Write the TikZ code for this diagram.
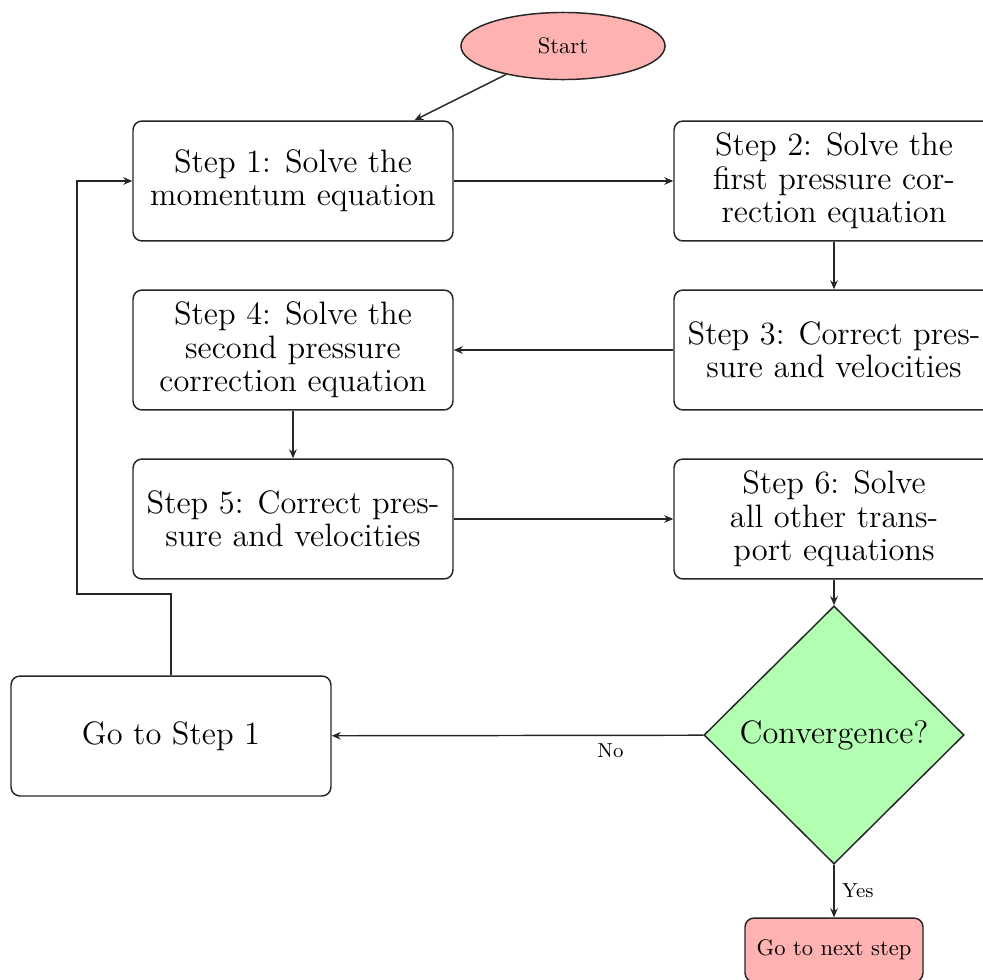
\documentclass[tikz,border=0pt]{standalone}
\usetikzlibrary{shapes.geometric,arrows.meta}
\newcommand{\bigtext}{\fontsize{14.4pt}{14.8pt}\selectfont}
\begin{document}
\begin{tikzpicture}[x=0.4444pt,y=-0.4444pt, line width=0.65pt,
  stepbox/.style={rectangle, draw=black!85, rounded corners=4pt, fill=white,
    minimum width=142.2pt, minimum height=53.3pt, align=center, inner sep=2pt,
    font=\bigtext},
  startnode/.style={ellipse, draw=black!85, fill=red!30, minimum width=90.7pt,
    minimum height=29.8pt, inner sep=0pt, font=\normalsize},
  decide/.style={diamond, draw=black!85, fill=green!30, aspect=1, inner sep=0pt,
    minimum width=115.6pt, minimum height=114.7pt, font=\bigtext},
  endbox/.style={rectangle, draw=black!85, rounded corners=4pt, fill=red!30,
    minimum width=79.1pt, minimum height=28.4pt, font=\normalsize},
  arr/.style={draw=black!85, -{Stealth[length=4pt,width=3.4pt]}},
  lbl/.style={font=\small, draw=none}]
\useasboundingbox (0,0) rectangle (983,979);
\clip (0,0) rectangle (983,979);
\node[startnode] (start) at (563,46) {Start};
\node[stepbox] (s1) at (293,181) {Step 1: Solve the\\momentum equation};
\node[stepbox] (s2) at (834,181) {Step 2: Solve the\\first pressure cor-\\rection equation};
\node[stepbox] (s3) at (834,350) {Step 3: Correct pres-\\sure and velocities};
\node[stepbox] (s4) at (293,350) {Step 4: Solve the\\second pressure\\correction equation};
\node[stepbox] (s5) at (293,519) {Step 5: Correct pres-\\sure and velocities};
\node[stepbox] (s6) at (834,519) {Step 6: Solve\\all other trans-\\port equations};
\node[decide] (dec) at (834,735) {Convergence?};
\node[stepbox] (go) at (171,736) {Go to Step 1};
\node[endbox] (next) at (834,950) {Go to next step};
\coordinate (c1) at (171,594);
\coordinate (c2) at (77,594);
\draw[arr] (start) -- (s1);
\draw[arr] (s1) -- (s2);
\draw[arr] (s2) -- (s3);
\draw[arr] (s3) -- (s4);
\draw[arr] (s4) -- (s5);
\draw[arr] (s5) -- (s6);
\draw[arr] (s6) -- (dec);
\draw[arr] (dec) -- node[lbl, pos=0.25, below] {No} (go);
\draw[arr] (dec) -- node[lbl, right] {Yes} (next);
\draw[arr] (go.north) -- (c1) -- (c2) |- (s1.west);
\end{tikzpicture}
\end{document}
